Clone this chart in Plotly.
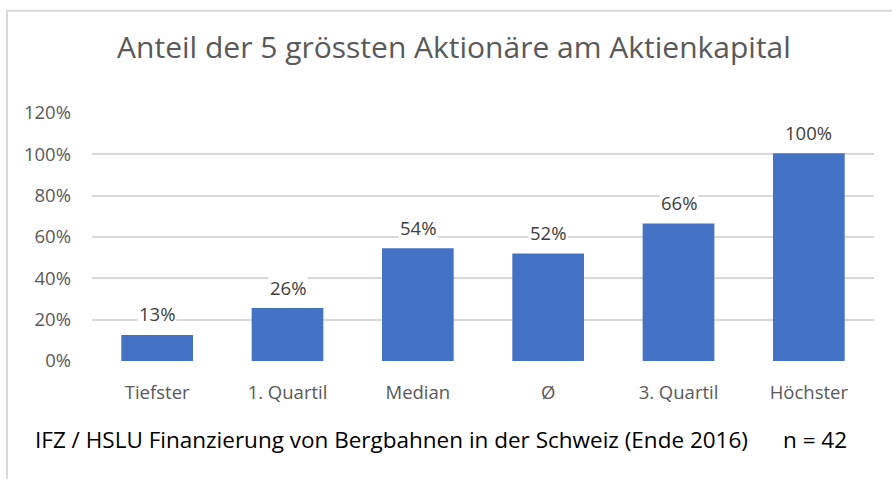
import plotly.graph_objects as go

categories = ["Tiefster", "1. Quartil", "Median", "Ø", "3. Quartil", "Höchster"]
values = [0.126, 0.256, 0.545, 0.52, 0.665, 1.005]
labels = ["13%", "26%", "54%", "52%", "66%", "100%"]
title_text = "Anteil der 5 grössten Aktionäre am Aktienkapital"
footer_text = "IFZ / HSLU Finanzierung von Bergbahnen in der Schweiz (Ende 2016)"
n_text = "n = 42"

W, H = 892, 479
L, R, T, B = 92, 18, 112.5, 118
pw, ph = W - L - R, H - T - B

def px_x(x):
    return (x - L) / pw

def px_y(y):
    return (H - B - y) / ph

FONT = "Open Sans"

fig = go.Figure()
fig.add_trace(go.Bar(x=categories, y=values, marker=dict(color="#4472c4", line=dict(width=0)),
                     hoverinfo="skip"))

for c, v, t in zip(categories, values, labels):
    fig.add_annotation(x=c, y=v, text=t, showarrow=False, yanchor="middle", yshift=21,
                       bgcolor="white", borderpad=1,
                       font=dict(family=FONT, size=18.5, color="#404040"))

fig.add_annotation(xref="paper", yref="paper", x=px_x(33), y=px_y(440), xanchor="left", yanchor="middle",
                   text=footer_text, showarrow=False,
                   font=dict(family=FONT, size=22.5, color="#000000"))
fig.add_annotation(xref="paper", yref="paper", x=px_x(781), y=px_y(440), xanchor="left", yanchor="middle",
                   text=n_text, showarrow=False,
                   font=dict(family=FONT, size=22.5, color="#000000"))

# outer border lines (left and top)
fig.add_shape(type="line", xref="paper", yref="paper", x0=px_x(7), x1=px_x(7), y0=px_y(10), y1=px_y(479),
              line=dict(color="#d9d9d9", width=2))
fig.add_shape(type="line", xref="paper", yref="paper", x0=px_x(6), x1=px_x(892), y0=px_y(10), y1=px_y(10),
              line=dict(color="#d9d9d9", width=2))

fig.update_layout(
    width=W, height=H,
    margin=dict(l=L, r=R, t=T, b=B, pad=0),
    paper_bgcolor="white", plot_bgcolor="white",
    bargap=0.45,
    showlegend=False,
    title=dict(text=title_text, x=px_x(454), xref="paper", xanchor="center",
               y=1 - 47 / H, yref="container", yanchor="middle",
               font=dict(family=FONT, size=30, color="#595959")),
    xaxis=dict(showgrid=False, showline=False, ticks="", zeroline=False, ticklabelstandoff=18,
               tickfont=dict(family=FONT, size=18.5, color="#595959")),
    yaxis=dict(range=[0, 1.2], dtick=0.2, tickformat=".0%", showgrid=True, gridcolor="#d9d9d9",
               gridwidth=1.5, zeroline=False, showline=False, ticks="", ticklabelstandoff=20,
               tickfont=dict(family=FONT, size=18.5, color="#595959")),
)

fig.write_html("out.html", config={"displayModeBar": False},
               post_script="document.body.style.margin='0';document.body.style.overflow='hidden';")
